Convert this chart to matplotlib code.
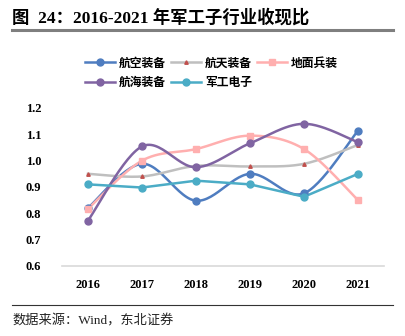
import numpy as np
import matplotlib
matplotlib.use("Agg")
import matplotlib.pyplot as plt
from matplotlib.lines import Line2D

years = ["2016", "2017", "2018", "2019", "2020", "2021"]
hangkong = [0.82, 0.988, 0.848, 0.95, 0.876, 1.114]
hangtian = [0.95, 0.94, 0.98, 0.978, 0.988, 1.06]
dimian = [0.817, 1.0, 1.044, 1.095, 1.044, 0.85]
hanghai = [0.772, 1.054, 0.975, 1.066, 1.14, 1.07]
dianzi = [0.91, 0.898, 0.924, 0.91, 0.863, 0.95]
yticks = [0.6, 0.7, 0.8, 0.9, 1.0, 1.1, 1.2]

SERIF_CJK = ["Liberation Serif", "Noto Sans CJK SC"]
CJK = ["Noto Sans CJK SC", "DejaVu Sans"]


def smooth(xs, ys, n=30):
    # Bezier smoothing like office charts (Catmull-Rom control points)
    pts = np.column_stack([xs, ys]).astype(float)
    ext = np.vstack([pts[0], pts, pts[-1]])
    out = []
    t = np.linspace(0, 1, n)[:, None]
    for i in range(len(pts) - 1):
        p0, p1, p2, p3 = ext[i], ext[i + 1], ext[i + 2], ext[i + 3]
        c1 = p1 + (p2 - p0) / 6
        c2 = p2 - (p3 - p1) / 6
        seg = ((1 - t) ** 3) * p1 + 3 * ((1 - t) ** 2) * t * c1 + 3 * (1 - t) * t ** 2 * c2 + t ** 3 * p2
        out.append(seg if i == 0 else seg[1:])
    seg = np.vstack(out)
    return seg[:, 0], seg[:, 1]


fig = plt.figure(figsize=(4.05, 3.36), dpi=100)
ax = fig.add_axes([62 / 405, 1 - 266 / 336, 322 / 405, 158 / 336])

x = np.arange(len(years))
series = [
    ("航空装备", hangkong, "#4F7DC0", "o", 5, "#4F7DC0", True),
    ("航天装备", hangtian, "#BFBFBF", "^", 2.5, "#C0504D", True),
    ("地面兵装", dimian, "#FFAFAF", "s", 5, "#FFAFAF", True),
    ("航海装备", hanghai, "#8064A2", "o", 5, "#8064A2", True),
    ("军工电子", dianzi, "#4BACC6", "o", 5, "#4BACC6", False),
]
handles = {}
for name, vals, color, mk, ms, mcolor, sm in series:
    if sm:
        sx, sy = smooth(x, vals)
    else:
        sx, sy = x, vals
    ax.plot(sx, sy, color=color, lw=1.8, zorder=2)
    ax.plot(x, vals, ls="none", marker=mk, ms=ms, color=mcolor, zorder=3)
    handles[name] = Line2D([0], [0], color=color, lw=1.8, marker=mk, ms=ms,
                           markerfacecolor=mcolor, markeredgecolor=mcolor)

ax.set_xlim(-0.48, 5.48)
ax.set_ylim(0.6, 1.2)
ax.set_xticks(x)
ax.set_xticklabels(years)
ax.set_yticks(yticks)
ax.set_yticklabels([f"{v:.1f}" for v in yticks])
for lab in ax.get_xticklabels() + ax.get_yticklabels():
    lab.set_fontfamily("Liberation Serif")
    lab.set_fontweight("bold")
    lab.set_fontsize(9)
ax.tick_params(axis="both", length=0)
ax.tick_params(axis="y", pad=15)
ax.tick_params(axis="x", pad=9)
for s in ["top", "right", "left"]:
    ax.spines[s].set_visible(False)
ax.spines["bottom"].set_color("#D9D9D9")
ax.spines["bottom"].set_linewidth(1.2)

order = ["航空装备", "航海装备", "航天装备", "军工电子", "地面兵装"]
fig.legend([handles[k] for k in order], order, ncol=3, frameon=False,
           loc="upper left", bbox_to_anchor=(74 / 405, 1 - 46 / 336),
           prop={"family": CJK, "size": 8.5, "weight": "bold"},
           handlelength=2.6, handletextpad=0.3, columnspacing=0.4,
           labelspacing=0.55)

fig.text(12 / 405, 1 - 18 / 336, "图  24：2016-2021 年军工子行业收现比",
         family=SERIF_CJK, weight="bold", size=12.5, va="center", ha="left")
fig.add_artist(Line2D([12 / 405, 393 / 405], [1 - 30 / 336] * 2,
                      color="#7F7F7F", lw=2.2))
fig.add_artist(Line2D([12 / 405, 393 / 405], [1 - 305 / 336] * 2,
                      color="#333333", lw=0.8))
fig.text(12 / 405, 1 - 321 / 336, "数据来源：Wind，东北证券",
         family=SERIF_CJK, size=9.5, va="center", ha="left", color="#222222")

fig.savefig("out.png", dpi=100)
